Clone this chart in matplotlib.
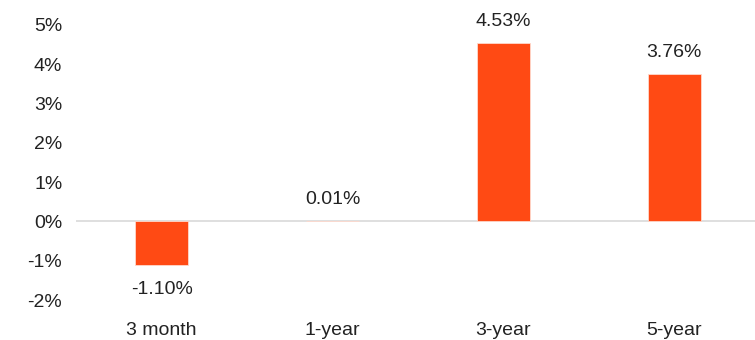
import matplotlib
matplotlib.use("Agg")
import matplotlib.pyplot as plt
from matplotlib.ticker import FuncFormatter

categories = ["3 month", "1-year", "3-year", "5-year"]
values = [-1.10, 0.01, 4.53, 3.76]
labels = ["-1.10%", "0.01%", "4.53%", "3.76%"]
yticks = [-2, -1, 0, 1, 2, 3, 4, 5]

plt.rcParams['font.family'] = ['Liberation Sans', 'DejaVu Sans']

fig = plt.figure(figsize=(7.55, 3.4), dpi=100)
ax = fig.add_axes([0.101, 0.1176, 0.905, 0.809])

x = range(len(categories))
bars = ax.bar(x, values, width=0.31, color="#FF4A14", edgecolor="#FFD9CC", linewidth=0.6, zorder=3)
ax.axhline(0, color="#D9D9D9", linewidth=1.2, zorder=2)

for xi, v, lab in zip(x, values, labels):
    if v >= 0:
        ax.text(xi, v + 0.33, lab, ha="center", va="bottom", fontsize=14, color="#222222")
    else:
        ax.text(xi, v - 0.42, lab, ha="center", va="top", fontsize=14, color="#222222")

ax.set_xlim(-0.5, 3.5)
ax.set_ylim(-2, 5)
ax.set_yticks(yticks)
ax.yaxis.set_major_formatter(FuncFormatter(lambda v, p: f"{int(v)}%"))
ax.set_xticks(list(x))
ax.set_xticklabels(categories)
ax.tick_params(axis="both", length=0, labelsize=14, colors="#222222")
ax.tick_params(axis="y", pad=10)
ax.tick_params(axis="x", pad=16)
for s in ax.spines.values():
    s.set_visible(False)

fig.savefig("out.png", dpi=100)
